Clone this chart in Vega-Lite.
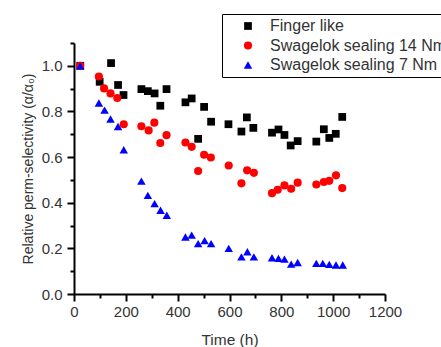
{
  "$schema": "https://vega.github.io/schema/vega-lite/v6.json",
  "width": 311,
  "height": 251,
  "autosize": {"type": "none"},
  "padding": {"left": 74, "top": 43, "right": 56, "bottom": 53},
  "background": "white",
  "config": {
    "view": {"stroke": null},
    "font": "Liberation Sans"
  },
  "data": {
    "values": [
      {"t": 24, "v": 1.0, "s": "Finger like"},
      {"t": 99, "v": 0.93, "s": "Finger like"},
      {"t": 143, "v": 1.012, "s": "Finger like"},
      {"t": 170, "v": 0.916, "s": "Finger like"},
      {"t": 191, "v": 0.872, "s": "Finger like"},
      {"t": 260, "v": 0.898, "s": "Finger like"},
      {"t": 285, "v": 0.889, "s": "Finger like"},
      {"t": 311, "v": 0.879, "s": "Finger like"},
      {"t": 333, "v": 0.825, "s": "Finger like"},
      {"t": 357, "v": 0.898, "s": "Finger like"},
      {"t": 430, "v": 0.84, "s": "Finger like"},
      {"t": 454, "v": 0.857, "s": "Finger like"},
      {"t": 479, "v": 0.68, "s": "Finger like"},
      {"t": 502, "v": 0.82, "s": "Finger like"},
      {"t": 529, "v": 0.755, "s": "Finger like"},
      {"t": 596, "v": 0.744, "s": "Finger like"},
      {"t": 646, "v": 0.712, "s": "Finger like"},
      {"t": 667, "v": 0.774, "s": "Finger like"},
      {"t": 692, "v": 0.728, "s": "Finger like"},
      {"t": 764, "v": 0.707, "s": "Finger like"},
      {"t": 789, "v": 0.721, "s": "Finger like"},
      {"t": 812, "v": 0.697, "s": "Finger like"},
      {"t": 836, "v": 0.651, "s": "Finger like"},
      {"t": 863, "v": 0.67, "s": "Finger like"},
      {"t": 935, "v": 0.668, "s": "Finger like"},
      {"t": 964, "v": 0.722, "s": "Finger like"},
      {"t": 985, "v": 0.684, "s": "Finger like"},
      {"t": 1010, "v": 0.702, "s": "Finger like"},
      {"t": 1035, "v": 0.776, "s": "Finger like"},
      {"t": 24, "v": 1.0, "s": "Swagelok sealing 14 Nm"},
      {"t": 96, "v": 0.953, "s": "Swagelok sealing 14 Nm"},
      {"t": 116, "v": 0.901, "s": "Swagelok sealing 14 Nm"},
      {"t": 141, "v": 0.879, "s": "Swagelok sealing 14 Nm"},
      {"t": 167, "v": 0.859, "s": "Swagelok sealing 14 Nm"},
      {"t": 192, "v": 0.744, "s": "Swagelok sealing 14 Nm"},
      {"t": 260, "v": 0.735, "s": "Swagelok sealing 14 Nm"},
      {"t": 288, "v": 0.717, "s": "Swagelok sealing 14 Nm"},
      {"t": 310, "v": 0.751, "s": "Swagelok sealing 14 Nm"},
      {"t": 333, "v": 0.662, "s": "Swagelok sealing 14 Nm"},
      {"t": 357, "v": 0.696, "s": "Swagelok sealing 14 Nm"},
      {"t": 430, "v": 0.664, "s": "Swagelok sealing 14 Nm"},
      {"t": 454, "v": 0.645, "s": "Swagelok sealing 14 Nm"},
      {"t": 479, "v": 0.539, "s": "Swagelok sealing 14 Nm"},
      {"t": 502, "v": 0.61, "s": "Swagelok sealing 14 Nm"},
      {"t": 528, "v": 0.598, "s": "Swagelok sealing 14 Nm"},
      {"t": 597, "v": 0.563, "s": "Swagelok sealing 14 Nm"},
      {"t": 646, "v": 0.485, "s": "Swagelok sealing 14 Nm"},
      {"t": 668, "v": 0.542, "s": "Swagelok sealing 14 Nm"},
      {"t": 694, "v": 0.531, "s": "Swagelok sealing 14 Nm"},
      {"t": 764, "v": 0.442, "s": "Swagelok sealing 14 Nm"},
      {"t": 786, "v": 0.457, "s": "Swagelok sealing 14 Nm"},
      {"t": 812, "v": 0.476, "s": "Swagelok sealing 14 Nm"},
      {"t": 838, "v": 0.461, "s": "Swagelok sealing 14 Nm"},
      {"t": 863, "v": 0.488, "s": "Swagelok sealing 14 Nm"},
      {"t": 935, "v": 0.48, "s": "Swagelok sealing 14 Nm"},
      {"t": 964, "v": 0.491, "s": "Swagelok sealing 14 Nm"},
      {"t": 985, "v": 0.496, "s": "Swagelok sealing 14 Nm"},
      {"t": 1011, "v": 0.52, "s": "Swagelok sealing 14 Nm"},
      {"t": 1035, "v": 0.464, "s": "Swagelok sealing 14 Nm"},
      {"t": 24, "v": 1.0, "s": "Swagelok sealing 7 Nm"},
      {"t": 96, "v": 0.837, "s": "Swagelok sealing 7 Nm"},
      {"t": 118, "v": 0.806, "s": "Swagelok sealing 7 Nm"},
      {"t": 141, "v": 0.767, "s": "Swagelok sealing 7 Nm"},
      {"t": 170, "v": 0.734, "s": "Swagelok sealing 7 Nm"},
      {"t": 192, "v": 0.632, "s": "Swagelok sealing 7 Nm"},
      {"t": 260, "v": 0.495, "s": "Swagelok sealing 7 Nm"},
      {"t": 285, "v": 0.432, "s": "Swagelok sealing 7 Nm"},
      {"t": 311, "v": 0.396, "s": "Swagelok sealing 7 Nm"},
      {"t": 334, "v": 0.367, "s": "Swagelok sealing 7 Nm"},
      {"t": 358, "v": 0.345, "s": "Swagelok sealing 7 Nm"},
      {"t": 430, "v": 0.25, "s": "Swagelok sealing 7 Nm"},
      {"t": 454, "v": 0.258, "s": "Swagelok sealing 7 Nm"},
      {"t": 479, "v": 0.221, "s": "Swagelok sealing 7 Nm"},
      {"t": 504, "v": 0.234, "s": "Swagelok sealing 7 Nm"},
      {"t": 529, "v": 0.221, "s": "Swagelok sealing 7 Nm"},
      {"t": 597, "v": 0.2, "s": "Swagelok sealing 7 Nm"},
      {"t": 646, "v": 0.163, "s": "Swagelok sealing 7 Nm"},
      {"t": 669, "v": 0.185, "s": "Swagelok sealing 7 Nm"},
      {"t": 694, "v": 0.163, "s": "Swagelok sealing 7 Nm"},
      {"t": 764, "v": 0.159, "s": "Swagelok sealing 7 Nm"},
      {"t": 789, "v": 0.156, "s": "Swagelok sealing 7 Nm"},
      {"t": 812, "v": 0.153, "s": "Swagelok sealing 7 Nm"},
      {"t": 838, "v": 0.131, "s": "Swagelok sealing 7 Nm"},
      {"t": 863, "v": 0.138, "s": "Swagelok sealing 7 Nm"},
      {"t": 935, "v": 0.134, "s": "Swagelok sealing 7 Nm"},
      {"t": 960, "v": 0.134, "s": "Swagelok sealing 7 Nm"},
      {"t": 985, "v": 0.13, "s": "Swagelok sealing 7 Nm"},
      {"t": 1011, "v": 0.127, "s": "Swagelok sealing 7 Nm"},
      {"t": 1037, "v": 0.127, "s": "Swagelok sealing 7 Nm"}
    ]
  },
  "mark": {"type": "point", "filled": true, "opacity": 1},
  "encoding": {
    "x": {
      "field": "t",
      "type": "quantitative",
      "scale": {"domain": [0, 1200], "nice": false, "zero": false},
      "axis": {
        "title": "Time (h)",
        "values": [0, 100, 200, 300, 400, 500, 600, 700, 800, 900, 1000, 1100, 1200],
        "labelExpr": "datum.value % 200 === 0 ? datum.label : ''",
        "format": "d",
        "grid": false,
        "domainColor": "black",
        "domainWidth": 2,
        "tickColor": "black",
        "tickWidth": 2,
        "tickSize": {"condition": {"test": "datum.value % 200 === 0", "value": 7}, "value": 4},
        "labelPadding": 3,
        "labelFontSize": 15,
        "labelColor": "#333333",
        "labelFont": "Liberation Sans",
        "labelFlush": false,
        "titleFontSize": 15.5,
        "titleFontWeight": "normal",
        "titleColor": "#333333",
        "titleFont": "Liberation Sans",
        "titlePadding": 13
      }
    },
    "y": {
      "field": "v",
      "type": "quantitative",
      "scale": {"domain": [0, 1.1], "nice": false, "zero": false},
      "axis": {
        "title": "Relative perm-selectivity (α/α₀)",
        "values": [0, 0.1, 0.2, 0.3, 0.4, 0.5, 0.6, 0.7, 0.8, 0.9, 1.0, 1.1],
        "labelExpr": "round(datum.value * 10) % 2 === 0 ? format(datum.value, '.1f') : ''",
        "grid": false,
        "domainColor": "black",
        "domainWidth": 2,
        "tickColor": "black",
        "tickWidth": 2,
        "tickSize": {"condition": {"test": "round(datum.value * 10) % 2 === 0", "value": 7}, "value": 4},
        "labelPadding": 5,
        "labelFontSize": 15,
        "labelColor": "#333333",
        "labelFont": "Liberation Sans",
        "labelFlush": false,
        "titleFontSize": 14,
        "titleFontWeight": "normal",
        "titleColor": "#333333",
        "titleFont": "Liberation Sans",
        "titlePadding": 6
      }
    },
    "color": {
      "field": "s",
      "type": "nominal",
      "scale": {
        "domain": ["Finger like", "Swagelok sealing 14 Nm", "Swagelok sealing 7 Nm"],
        "range": ["#000000", "#ff0000", "#0000ff"]
      },
      "legend": {
        "title": null,
        "orient": "none",
        "legendX": 148,
        "legendY": -29,
        "strokeColor": "black",
        "padding": 4,
        "labelFontSize": 16,
        "labelColor": "#333333",
        "labelFont": "Liberation Sans",
        "labelLimit": 400,
        "symbolSize": 40,
        "symbolStrokeWidth": 0,
        "symbolOffset": 14,
        "labelOffset": 14,
        "rowPadding": 3.5
      }
    },
    "shape": {
      "field": "s",
      "type": "nominal",
      "scale": {
        "domain": ["Finger like", "Swagelok sealing 14 Nm", "Swagelok sealing 7 Nm"],
        "range": ["square", "circle", "triangle-up"]
      }
    },
    "size": {
      "field": "s",
      "type": "nominal",
      "scale": {
        "domain": ["Finger like", "Swagelok sealing 14 Nm", "Swagelok sealing 7 Nm"],
        "range": [60, 72, 130]
      },
      "legend": null
    }
  }
}
